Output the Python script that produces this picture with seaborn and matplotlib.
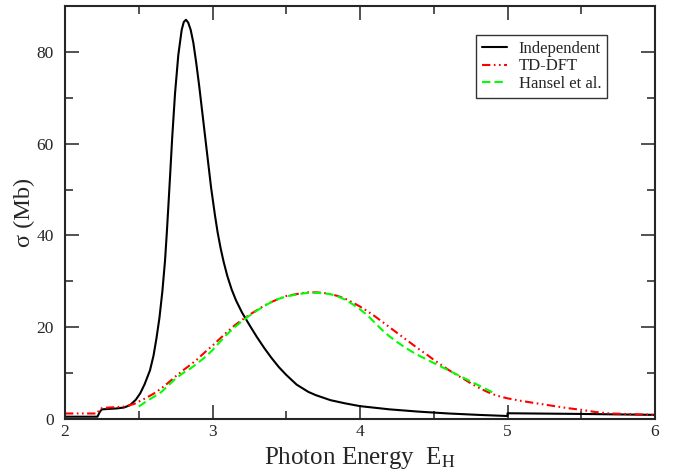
import matplotlib
matplotlib.use("Agg")
import matplotlib.pyplot as plt
import seaborn as sns

# Independent-electron cross section (black)
indep_x = [2.00, 2.22, 2.235, 2.25, 2.30, 2.35, 2.40, 2.44, 2.48, 2.51, 2.54, 2.576, 2.60,
           2.62, 2.64, 2.66, 2.678, 2.69, 2.70, 2.712, 2.727, 2.746, 2.768, 2.791, 2.805,
           2.82, 2.835, 2.852, 2.87, 2.89, 2.91, 2.93, 2.95, 2.97, 2.99, 3.017, 3.035,
           3.055, 3.075, 3.10, 3.13, 3.16, 3.20, 3.25, 3.30, 3.35, 3.40, 3.45, 3.50, 3.57,
           3.65, 3.70, 3.80, 3.90, 4.00, 4.20, 4.40, 4.60, 4.80, 5.00, 5.00, 5.50, 6.00]
indep_y = [0.5, 0.5, 1.5, 2.1, 2.2, 2.3, 2.5, 3.0, 4.2, 5.6, 7.6, 10.6, 13.8,
           17.6, 22.0, 27.8, 34.5, 40.5, 46.0, 52.8, 61.5, 71.0, 79.3, 84.8, 86.5,
           87.0, 86.4, 84.8, 82.0, 77.5, 72.5, 67.0, 61.5, 56.0, 50.5, 44.3, 40.6,
           37.2, 34.3, 31.2, 28.2, 25.8, 23.2, 20.5, 17.9, 15.5, 13.3, 11.3, 9.6, 7.5,
           5.9, 5.2, 4.1, 3.4, 2.8, 2.1, 1.6, 1.2, 0.9, 0.65, 1.25, 1.1, 0.9]

# TD-DFT (red)
tddft_x = [2.00, 2.22, 2.235, 2.30, 2.40, 2.47, 2.55, 2.60, 2.65, 2.70, 2.75, 2.80, 2.85,
           2.90, 2.95, 3.00, 3.05, 3.10, 3.15, 3.20, 3.25, 3.30, 3.35, 3.40, 3.45, 3.50,
           3.55, 3.60, 3.65, 3.70, 3.75, 3.80, 3.85, 3.90, 3.95, 4.00, 4.05, 4.10, 4.15,
           4.20, 4.25, 4.30, 4.35, 4.40, 4.45, 4.50, 4.55, 4.60, 4.65, 4.70, 4.75, 4.80,
           4.85, 4.90, 4.95, 5.00, 5.10, 5.20, 5.30, 5.40, 5.50, 5.60, 5.70, 5.80, 5.90, 6.00]
tddft_y = [1.2, 1.2, 2.3, 2.5, 2.7, 3.3, 4.6, 5.5, 6.6, 7.9, 9.3, 10.6, 11.8,
           13.1, 14.6, 16.0, 17.5, 19.0, 20.4, 21.6, 22.7, 23.7, 24.7, 25.5, 26.2, 26.8,
           27.1, 27.4, 27.6, 27.6, 27.5, 27.2, 26.8, 26.2, 25.4, 24.5, 23.5, 22.4, 21.2,
           20.0, 18.8, 17.6, 16.4, 15.2, 14.1, 12.9, 11.8, 10.7, 9.7, 8.8, 7.8, 6.9,
           6.1, 5.4, 4.9, 4.5, 3.9, 3.4, 2.9, 2.4, 2.0, 1.5, 1.2, 1.1, 1.0, 0.9]

# Hansel et al. (green)
hansel_x = [2.50, 2.55, 2.60, 2.65, 2.70, 2.75, 2.80, 2.85, 2.90, 2.95, 3.00, 3.05, 3.10,
            3.15, 3.20, 3.25, 3.30, 3.35, 3.40, 3.45, 3.50, 3.55, 3.60, 3.65, 3.70, 3.75,
            3.80, 3.85, 3.90, 3.95, 4.00, 4.05, 4.10, 4.15, 4.20, 4.25, 4.30, 4.35, 4.40,
            4.45, 4.50, 4.55, 4.60, 4.65, 4.70, 4.75, 4.80, 4.85, 4.90]
hansel_y = [2.7, 3.8, 4.8, 5.8, 7.3, 8.8, 10.0, 11.0, 12.2, 13.5, 15.0, 16.8, 18.5,
            20.0, 21.3, 22.5, 23.6, 24.6, 25.5, 26.2, 26.7, 27.0, 27.3, 27.5, 27.5, 27.4,
            27.2, 26.7, 26.0, 25.0, 23.9, 22.6, 21.0, 19.4, 18.0, 16.8, 15.7, 14.7, 13.8,
            13.0, 12.2, 11.4, 10.6, 9.8, 9.0, 8.2, 7.4, 6.6, 5.8]

sns.set_style("ticks")
plt.rcParams["font.family"] = ["Liberation Serif", "DejaVu Serif"]
plt.rcParams["mathtext.fontset"] = "stix"
plt.rcParams["lines.scale_dashes"] = False

fig = plt.figure(figsize=(6.73, 4.72), dpi=100)
ax = fig.add_axes([0.0966, 0.1123, 0.8767, 0.875])

sns.lineplot(x=indep_x, y=indep_y, color="black", lw=1.5, label="Independent",
             estimator=None, sort=False, ax=ax)
sns.lineplot(x=tddft_x, y=tddft_y, color="#ff0000", lw=1.5, label="TD-DFT",
             estimator=None, sort=False, ax=ax)
sns.lineplot(x=hansel_x, y=hansel_y, color="#00ff00", lw=1.5, label="Hansel et al.",
             estimator=None, sort=False, ax=ax)
ax.lines[1].set_dashes([6, 2.5, 1.2, 2.5, 1.2, 2.5])
ax.lines[2].set_dashes([6, 3])

ax.set_xlim(2, 6)
ax.set_ylim(0, 90)
ax.set_xticks([2, 3, 4, 5, 6])
ax.set_xticks([2.5, 3.5, 4.5, 5.5], minor=True)
ax.set_yticks([0, 20, 40, 60, 80])
ax.set_yticks([10, 30, 50, 70], minor=True)
ax.tick_params(which="both", direction="in", top=True, right=True, width=1.2,
               labelsize=12.5, color="#333333")
ax.tick_params(which="major", length=10)
ax.tick_params(axis="y", which="major", pad=8)
ax.tick_params(which="minor", length=6)
for sp in ax.spines.values():
    sp.set_linewidth(1.5)
    sp.set_visible(True)

ax.set_xlabel(r"Photon Energy  E$_\mathrm{H}$", fontsize=18, labelpad=4)
ax.set_ylabel("σ (Mb)", fontsize=17.5, labelpad=1)

leg = ax.legend(loc="upper right", bbox_to_anchor=(0.919, 0.93), borderaxespad=0,
                fontsize=12, frameon=True, fancybox=False, handlelength=1.5,
                handletextpad=0.7, labelspacing=0.1, borderpad=0.35)
leg.get_frame().set_edgecolor("black")
leg.get_frame().set_linewidth(1.0)

fig.savefig("out.png", dpi=100)
